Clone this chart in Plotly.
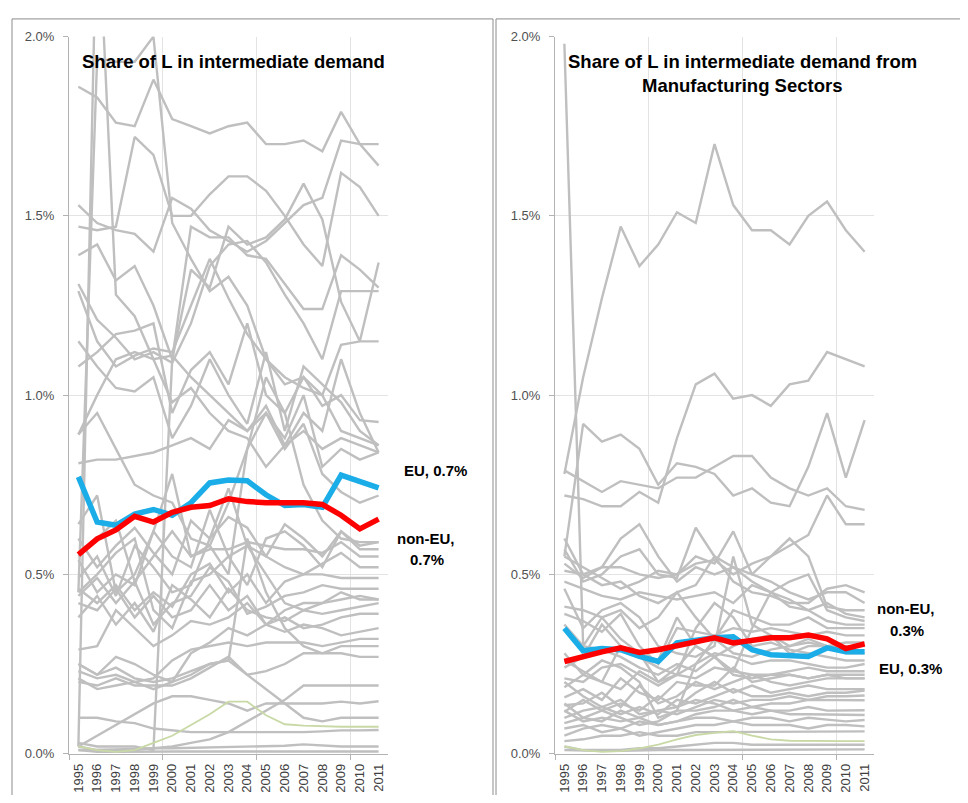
import plotly.graph_objects as go

years = list(range(1995, 2012))
year_labels = [str(y) for y in years]

# ---- Left panel: Share of L in intermediate demand (values in %) ----
left_eu = [0.772, 0.646, 0.637, 0.668, 0.681, 0.665, 0.700, 0.755, 0.763, 0.761,
           0.722, 0.692, 0.695, 0.687, 0.777, 0.760, 0.741]
left_noneu = [0.555, 0.599, 0.624, 0.662, 0.646, 0.673, 0.687, 0.692, 0.711, 0.703,
              0.700, 0.700, 0.700, 0.695, 0.665, 0.627, 0.654]
left_green = [0.02, 0.01, 0.005, 0.01, 0.03, 0.05, 0.08, 0.11, 0.145, 0.145,
              0.107, 0.082, 0.078, 0.076, 0.075, 0.075, 0.075]
left_gray = [
    [1.86, 1.83, 1.76, 1.75, 1.88, 1.77, 1.75, 1.73, 1.75, 1.76, 1.70, 1.70, 1.71, 1.68, 1.79, 1.70, 1.64],
    [1.47, 1.46, 1.47, 1.72, 1.67, 1.50, 1.50, 1.56, 1.61, 1.61, 1.57, 1.50, 1.42, 1.36, 1.62, 1.58, 1.50],
    [1.53, 1.48, 1.46, 1.45, 1.40, 1.55, 1.52, 1.46, 1.43, 1.40, 1.43, 1.48, 1.53, 1.55, 1.71, 1.70, 1.70],
    [0.45, 1.94, 1.93, 1.93, 2.00, 1.48, 1.38, 1.29, 1.33, 1.25, 1.10, 1.03, 1.05, 1.00, 0.90, 0.88, 0.86],
    [0.02, 2.40, 1.28, 1.22, 1.10, 0.98, 1.02, 0.95, 0.90, 0.88, 0.80, 0.86, 0.90, 0.85, 0.88, 0.86, 0.84],
    [1.39, 1.42, 1.32, 1.36, 1.25, 1.10, 1.35, 1.30, 1.47, 1.42, 1.44, 1.49, 1.59, 1.49, 1.26, 1.15, 1.37],
    [1.31, 1.21, 1.16, 1.10, 1.12, 1.09, 1.20, 1.36, 1.42, 1.43, 1.37, 1.28, 1.20, 1.10, 1.29, 1.29, 1.29],
    [1.29, 1.15, 1.08, 1.11, 1.13, 1.12, 1.25, 1.38, 1.27, 1.17, 1.10, 1.05, 1.02, 1.00, 1.14, 1.15, 1.15],
    [1.15, 1.08, 1.02, 1.01, 1.05, 0.88, 0.97, 1.10, 1.00, 0.92, 1.12, 0.90, 1.08, 1.03, 0.98, 0.90, 0.86],
    [1.08, 1.12, 1.17, 1.18, 1.20, 0.95, 1.07, 1.12, 1.03, 1.20, 1.00, 0.95, 1.05, 0.97, 1.00, 0.93, 0.925],
    [0.89, 1.00, 1.10, 1.12, 1.10, 1.11, 1.05, 1.00, 0.95, 0.90, 0.97, 0.86, 0.95, 0.90, 1.10, 0.95, 0.84],
    [0.81, 0.82, 0.82, 0.83, 0.84, 0.86, 0.88, 0.85, 0.93, 0.90, 0.95, 0.85, 0.92, 0.78, 0.73, 0.70, 0.72],
    [0.64, 0.72, 0.45, 0.50, 0.62, 0.55, 0.52, 0.68, 0.55, 0.47, 0.60, 0.62, 0.58, 0.52, 0.62, 0.58, 0.59],
    [0.60, 0.52, 0.58, 0.63, 0.56, 0.50, 0.65, 0.60, 0.74, 0.58, 0.55, 0.64, 0.60, 0.55, 0.62, 0.57, 0.57],
    [0.54, 0.45, 0.50, 0.47, 0.62, 0.78, 0.55, 0.57, 0.57, 0.59, 0.58, 0.57, 0.57, 0.56, 0.59, 0.55, 0.55],
    [0.49, 0.55, 0.44, 0.58, 0.52, 0.45, 0.47, 0.60, 0.66, 0.63, 0.55, 0.52, 0.50, 0.53, 0.56, 0.52, 0.52],
    [0.46, 0.42, 0.47, 0.40, 0.45, 0.41, 0.50, 0.53, 0.45, 0.50, 0.42, 0.48, 0.50, 0.50, 0.49, 0.49, 0.49],
    [0.44, 0.49, 0.42, 0.48, 0.36, 0.42, 0.44, 0.52, 0.48, 0.39, 0.41, 0.44, 0.45, 0.47, 0.46, 0.46, 0.46],
    [0.42, 0.40, 0.46, 0.38, 0.44, 0.38, 0.40, 0.47, 0.40, 0.44, 0.36, 0.40, 0.42, 0.42, 0.43, 0.44, 0.43],
    [0.38, 0.44, 0.36, 0.42, 0.34, 0.47, 0.43, 0.38, 0.46, 0.40, 0.38, 0.37, 0.40, 0.39, 0.40, 0.41, 0.42],
    [0.29, 0.30, 0.40, 0.35, 0.30, 0.33, 0.37, 0.36, 0.38, 0.42, 0.36, 0.38, 0.35, 0.36, 0.38, 0.39, 0.39],
    [0.25, 0.22, 0.27, 0.25, 0.22, 0.20, 0.28, 0.31, 0.35, 0.33, 0.36, 0.34, 0.36, 0.35, 0.33, 0.34, 0.35],
    [0.23, 0.21, 0.22, 0.20, 0.21, 0.26, 0.29, 0.30, 0.31, 0.30, 0.31, 0.31, 0.31, 0.30, 0.31, 0.32, 0.32],
    [0.20, 0.19, 0.21, 0.19, 0.19, 0.19, 0.21, 0.24, 0.27, 0.22, 0.23, 0.25, 0.28, 0.28, 0.30, 0.30, 0.30],
    [0.21, 0.18, 0.19, 0.20, 0.18, 0.20, 0.22, 0.25, 0.26, 0.60, 0.45, 0.35, 0.30, 0.28, 0.28, 0.27, 0.27],
    [0.25, 0.22, 0.24, 0.21, 0.20, 0.21, 0.23, 0.25, 0.26, 0.22, 0.18, 0.14, 0.10, 0.09, 0.10, 0.10, 0.10],
    [0.01, 0.01, 0.01, 0.01, 0.015, 0.02, 0.03, 0.04, 0.06, 0.09, 0.12, 0.15, 0.19, 0.19, 0.19, 0.19, 0.19],
    [0.02, 0.05, 0.08, 0.11, 0.14, 0.16, 0.16, 0.15, 0.14, 0.12, 0.14, 0.14, 0.14, 0.14, 0.145, 0.14, 0.146],
    [0.10, 0.10, 0.09, 0.085, 0.07, 0.065, 0.06, 0.06, 0.06, 0.058, 0.06, 0.06, 0.06, 0.062, 0.065, 0.065, 0.066],
    [0.02, 0.01, 0.012, 0.014, 0.015, 0.015, 0.016, 0.017, 0.02, 0.02, 0.02, 0.022, 0.026, 0.022, 0.02, 0.02, 0.02],
    [0.01, 0.005, 0.005, 0.006, 0.006, 0.006, 0.006, 0.006, 0.006, 0.006, 0.006, 0.006, 0.006, 0.006, 0.006, 0.006, 0.006],
    [0.03, 0.02, 0.02, 0.02, 0.01, 1.10, 1.47, 1.44, 1.44, 1.39, 1.38, 1.31, 1.24, 1.24, 1.39, 1.35, 1.30],
    [0.89, 0.95, 0.85, 0.75, 0.72, 0.70, 0.60, 0.58, 0.70, 0.85, 0.95, 0.88, 1.00, 0.80, 0.85, 0.82, 0.84],
    [0.55, 0.60, 0.65, 0.48, 0.55, 0.62, 0.55, 0.58, 0.50, 0.85, 1.05, 0.95, 0.75, 0.65, 0.60, 0.59, 0.59],
    [0.45, 0.50, 0.56, 0.60, 0.40, 0.35, 0.48, 0.50, 0.55, 0.58, 0.50, 0.42, 0.40, 0.42, 0.45, 0.43, 0.43],
]

# ---- Right panel: from Manufacturing Sectors (values in %) ----
right_eu = [0.350, 0.287, 0.293, 0.290, 0.271, 0.257, 0.309, 0.317, 0.323, 0.326,
            0.290, 0.276, 0.274, 0.271, 0.295, 0.284, 0.284]
right_noneu = [0.257, 0.271, 0.284, 0.295, 0.282, 0.290, 0.301, 0.309, 0.323, 0.309,
               0.317, 0.323, 0.323, 0.331, 0.320, 0.293, 0.306]
right_green = [0.02, 0.01, 0.005, 0.007, 0.015, 0.025, 0.04, 0.052, 0.058, 0.063,
               0.05, 0.04, 0.036, 0.035, 0.035, 0.035, 0.035]
right_gray = [
    [1.98, 0.30, 0.38, 0.32, 0.28, 0.20, 0.24, 0.30, 0.27, 0.22, 0.21, 0.22, 0.22, 0.21, 0.22, 0.21, 0.21],
    [0.78, 1.05, 1.27, 1.47, 1.36, 1.42, 1.51, 1.48, 1.70, 1.53, 1.46, 1.46, 1.42, 1.50, 1.54, 1.46, 1.40],
    [0.72, 0.71, 0.69, 0.69, 0.73, 0.70, 0.88, 1.03, 1.06, 0.99, 1.00, 0.97, 1.03, 1.04, 1.12, 1.10, 1.08],
    [0.55, 0.92, 0.87, 0.89, 0.85, 0.75, 0.81, 0.80, 0.78, 0.72, 0.74, 0.70, 0.69, 0.80, 0.95, 0.77, 0.93],
    [0.79, 0.76, 0.73, 0.76, 0.75, 0.74, 0.77, 0.77, 0.80, 0.83, 0.83, 0.77, 0.74, 0.72, 0.74, 0.69, 0.68],
    [0.60, 0.50, 0.52, 0.60, 0.64, 0.55, 0.48, 0.52, 0.50, 0.52, 0.50, 0.55, 0.58, 0.61, 0.72, 0.64, 0.64],
    [0.57, 0.48, 0.50, 0.55, 0.57, 0.50, 0.49, 0.63, 0.55, 0.48, 0.45, 0.44, 0.42, 0.42, 0.46, 0.47, 0.45],
    [0.55, 0.52, 0.49, 0.46, 0.48, 0.51, 0.50, 0.55, 0.53, 0.62, 0.50, 0.48, 0.45, 0.43, 0.45, 0.45, 0.42],
    [0.53, 0.49, 0.52, 0.52, 0.50, 0.49, 0.50, 0.53, 0.54, 0.50, 0.53, 0.55, 0.60, 0.55, 0.41, 0.40, 0.40],
    [0.51, 0.50, 0.47, 0.48, 0.44, 0.42, 0.45, 0.47, 0.55, 0.52, 0.48, 0.45, 0.41, 0.40, 0.42, 0.39, 0.38],
    [0.48, 0.46, 0.44, 0.43, 0.45, 0.44, 0.43, 0.44, 0.45, 0.42, 0.47, 0.45, 0.43, 0.40, 0.37, 0.36, 0.36],
    [0.41, 0.40, 0.38, 0.40, 0.35, 0.38, 0.45, 0.38, 0.32, 0.40, 0.38, 0.36, 0.36, 0.38, 0.35, 0.35, 0.35],
    [0.39, 0.37, 0.34, 0.39, 0.30, 0.25, 0.35, 0.34, 0.33, 0.35, 0.34, 0.35, 0.34, 0.33, 0.34, 0.33, 0.33],
    [0.24, 0.27, 0.36, 0.30, 0.28, 0.26, 0.38, 0.30, 0.27, 0.30, 0.32, 0.33, 0.30, 0.32, 0.30, 0.31, 0.31],
    [0.21, 0.20, 0.24, 0.25, 0.22, 0.19, 0.22, 0.25, 0.28, 0.27, 0.25, 0.26, 0.26, 0.25, 0.24, 0.24, 0.25],
    [0.185, 0.22, 0.20, 0.18, 0.23, 0.20, 0.22, 0.21, 0.24, 0.23, 0.22, 0.22, 0.23, 0.24, 0.23, 0.23, 0.23],
    [0.157, 0.18, 0.15, 0.21, 0.17, 0.15, 0.20, 0.19, 0.19, 0.24, 0.20, 0.21, 0.22, 0.21, 0.22, 0.22, 0.22],
    [0.135, 0.14, 0.17, 0.13, 0.19, 0.14, 0.16, 0.20, 0.18, 0.20, 0.22, 0.20, 0.19, 0.20, 0.21, 0.21, 0.21],
    [0.117, 0.15, 0.12, 0.14, 0.12, 0.16, 0.13, 0.17, 0.20, 0.17, 0.19, 0.17, 0.18, 0.19, 0.18, 0.18, 0.18],
    [0.10, 0.12, 0.13, 0.11, 0.13, 0.11, 0.15, 0.14, 0.16, 0.18, 0.16, 0.16, 0.17, 0.16, 0.17, 0.17, 0.176],
    [0.085, 0.10, 0.09, 0.12, 0.10, 0.12, 0.11, 0.13, 0.15, 0.14, 0.15, 0.15, 0.16, 0.15, 0.16, 0.16, 0.162],
    [0.14, 0.10, 0.12, 0.10, 0.08, 0.09, 0.12, 0.12, 0.13, 0.15, 0.13, 0.14, 0.14, 0.15, 0.15, 0.15, 0.149],
    [0.12, 0.09, 0.10, 0.09, 0.10, 0.08, 0.09, 0.11, 0.12, 0.12, 0.13, 0.12, 0.12, 0.13, 0.12, 0.12, 0.121],
    [0.20, 0.16, 0.13, 0.15, 0.11, 0.12, 0.13, 0.15, 0.14, 0.12, 0.11, 0.12, 0.11, 0.11, 0.11, 0.11, 0.108],
    [0.05, 0.07, 0.08, 0.07, 0.09, 0.08, 0.09, 0.10, 0.10, 0.09, 0.10, 0.10, 0.09, 0.10, 0.095, 0.09, 0.094],
    [0.07, 0.08, 0.06, 0.07, 0.05, 0.06, 0.07, 0.08, 0.08, 0.09, 0.08, 0.08, 0.08, 0.07, 0.08, 0.08, 0.076],
    [0.035, 0.04, 0.05, 0.05, 0.06, 0.05, 0.05, 0.06, 0.06, 0.06, 0.06, 0.06, 0.06, 0.06, 0.06, 0.06, 0.062],
    [0.02, 0.01, 0.01, 0.01, 0.015, 0.015, 0.02, 0.025, 0.03, 0.03, 0.025, 0.025, 0.025, 0.025, 0.025, 0.025, 0.025],
    [0.01, 0.008, 0.008, 0.008, 0.01, 0.01, 0.01, 0.01, 0.012, 0.012, 0.012, 0.012, 0.012, 0.012, 0.012, 0.012, 0.012],
    [0.28, 0.22, 0.26, 0.24, 0.20, 0.10, 0.12, 0.25, 0.32, 0.28, 0.27, 0.29, 0.30, 0.31, 0.30, 0.30, 0.30],
    [0.26, 0.23, 0.20, 0.30, 0.27, 0.24, 0.22, 0.35, 0.42, 0.38, 0.30, 0.31, 0.29, 0.28, 0.27, 0.26, 0.26],
    [0.46, 0.35, 0.40, 0.42, 0.38, 0.30, 0.28, 0.27, 0.30, 0.55, 0.36, 0.33, 0.28, 0.30, 0.30, 0.28, 0.28],
    [0.36, 0.30, 0.29, 0.27, 0.24, 0.22, 0.25, 0.23, 0.27, 0.23, 0.35, 0.45, 0.48, 0.50, 0.40, 0.38, 0.37],
]

y_ticks = [0.0, 0.5, 1.0, 1.5, 2.0]
y_tick_labels = ["0.0%", "0.5%", "1.0%", "1.5%", "2.0%"]

# page has an 8px body margin: figure is 952x787 placed at (8, 8)
OFF = 8
W, H = 968 - 2 * OFF, 803 - 2 * OFF


def px_x(p):
    return (p - OFF) / W


def px_y(p):
    return 1 - (p - OFF) / H


GRAY = "#BFBFBF"
GRID = "#E3E3E3"
AXIS = "#B3B3B3"

fig = go.Figure()

panels = [
    ("x", "y", left_gray, left_green, left_eu, left_noneu),
    ("x2", "y2", right_gray, right_green, right_eu, right_noneu),
]
for xa, ya, gray_rows, green, eu, noneu in panels:
    for row in gray_rows:
        fig.add_trace(go.Scatter(x=years, y=row, mode="lines", xaxis=xa, yaxis=ya,
                                 line=dict(color=GRAY, width=2.4), showlegend=False,
                                 hoverinfo="skip"))
    fig.add_trace(go.Scatter(x=years, y=green, mode="lines", xaxis=xa, yaxis=ya,
                             line=dict(color="#C9D9A6", width=1.8), showlegend=False))
    fig.add_trace(go.Scatter(x=years, y=eu, mode="lines", xaxis=xa, yaxis=ya, name="EU",
                             line=dict(color="#1BADE8", width=5.5), showlegend=False))
    fig.add_trace(go.Scatter(x=years, y=noneu, mode="lines", xaxis=xa, yaxis=ya, name="non-EU",
                             line=dict(color="#FF0000", width=5.5), showlegend=False))

xaxis_common = dict(
    range=[1994.5, 2011.5], tickmode="array", tickvals=years, ticktext=year_labels,
    tickangle=-90, showgrid=False, ticks="", showline=True, linecolor=AXIS, linewidth=1,
    zeroline=False, tickfont=dict(family="Liberation Sans", size=13, color="#404040"),
    ticklabelstandoff=4,
    minor=dict(tickmode="array", tickvals=[1994.5, 1999.5, 2004.5, 2009.5], showgrid=True,
               gridcolor=GRID, gridwidth=1, ticks="outside", ticklen=5, tickcolor=AXIS),
    fixedrange=True,
)
yaxis_common = dict(
    range=[0, 2.0], tickmode="array", tickvals=y_ticks, ticktext=y_tick_labels,
    showgrid=True, gridcolor=GRID, gridwidth=1, zeroline=False, showline=True,
    linecolor=AXIS, linewidth=1, ticks="outside", ticklen=5, tickcolor=AXIS,
    tickfont=dict(family="Liberation Sans", size=13, color="#505050"),
    ticklabelstandoff=6,
    domain=[px_y(761), px_y(30)], fixedrange=True,
)

fig.update_layout(
    width=W, height=H, autosize=False,
    margin=dict(l=0, r=0, t=0, b=0),
    paper_bgcolor="white", plot_bgcolor="white",
    xaxis=dict(xaxis_common, domain=[px_x(69), px_x(388)], anchor="y"),
    yaxis=dict(yaxis_common, anchor="x"),
    xaxis2=dict(xaxis_common, domain=[px_x(555), px_x(874)], anchor="y2"),
    yaxis2=dict(yaxis_common, anchor="x2"),
    shapes=[
        dict(type="rect", xref="paper", yref="paper", x0=px_x(12), x1=px_x(493),
             y0=-0.1, y1=px_y(12), line=dict(color="#8C8C8C", width=1), layer="below"),
        dict(type="rect", xref="paper", yref="paper", x0=px_x(496), x1=1.1,
             y0=-0.1, y1=px_y(12), line=dict(color="#8C8C8C", width=1), layer="below"),
    ],
)

title_font = dict(family="Liberation Sans", size=18.5, color="#000000")
label_font = dict(family="Liberation Sans", size=15, color="#000000")
annotations = [
    dict(text="<b>Share of L in intermediate demand</b>", x=px_x(233), y=px_y(55),
         font=title_font),
    dict(text="<b>Share of L in intermediate demand from</b>", x=px_x(742), y=px_y(55),
         font=title_font),
    dict(text="<b>Manufacturing Sectors</b>", x=px_x(742), y=px_y(80), font=title_font),
    dict(text="<b>EU, 0.7%</b>", x=px_x(435), y=px_y(472), font=label_font),
    dict(text="<b>non-EU,</b>", x=px_x(426), y=px_y(542), font=label_font),
    dict(text="<b>0.7%</b>", x=px_x(427), y=px_y(563), font=label_font),
    dict(text="<b>non-EU,</b>", x=px_x(906), y=px_y(613), font=label_font),
    dict(text="<b>0.3%</b>", x=px_x(907), y=px_y(635), font=label_font),
    dict(text="<b>EU, 0.3%</b>", x=px_x(910), y=px_y(674), font=label_font),
]
for a in annotations:
    a.update(xref="paper", yref="paper", showarrow=False, xanchor="center", yanchor="middle")
fig.update_layout(annotations=annotations)

fig.write_html("out.html")
